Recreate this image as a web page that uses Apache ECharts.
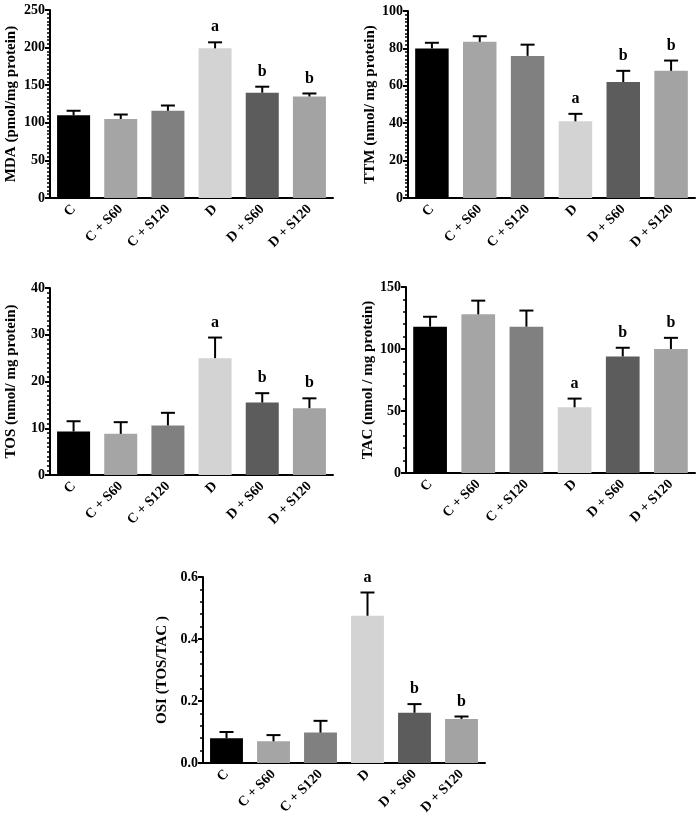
<!DOCTYPE html>
<html><head><meta charset="utf-8">
<script src="https://cdn.jsdelivr.net/npm/echarts@6/dist/echarts.min.js"></script>
<style>html,body{margin:0;padding:0;background:#fff}#c{width:697px;height:829px}</style>
</head><body><div id="c"></div>
<script>
const categories = ['C', 'C + S60', 'C + S120', 'D', 'D + S60', 'D + S120'];
const barColors = ['#000000', '#a5a5a5', '#808080', '#d3d3d3', '#5c5c5c', '#a3a3a3'];
const letters = ['', '', '', 'a', 'b', 'b'];

const mdaMean = [110, 105, 116, 199, 140, 135];
const mdaErr  = [116, 111, 123, 207, 148, 139];
const ttmMean = [80, 83.5, 76, 41, 62, 68];
const ttmErr  = [83, 86.5, 82, 45, 68, 73.5];
const tosMean = [9.3, 8.8, 10.6, 25, 15.5, 14.3];
const tosErr  = [11.5, 11.3, 13.3, 29.4, 17.5, 16.4];
const tacMean = [118, 128, 118, 53, 94, 100];
const tacErr  = [126, 139, 131, 60, 101, 109];
const osiMean = [0.08, 0.07, 0.098, 0.475, 0.162, 0.142];
const osiErr  = [0.10, 0.09, 0.136, 0.55, 0.19, 0.15];

const panels = [
  {name: 'MDA (pmol/mg protein)', mean: mdaMean, err: mdaErr, max: 250, interval: 50, minor: 10, grid: {left: 50, top: 10, width: 283, height: 188}, gap: 31, fmt: v => v},
  {name: 'TTM (nmol/ mg protein)', mean: ttmMean, err: ttmErr, max: 100, interval: 20, minor: 10, grid: {left: 408, top: 11, width: 287, height: 187}, gap: 28, fmt: v => v},
  {name: 'TOS (nmol/ mg protein)', mean: tosMean, err: tosErr, max: 40, interval: 10, minor: 10, grid: {left: 50, top: 288, width: 283, height: 187}, gap: 31, fmt: v => v},
  {name: 'TAC (nmol / mg protein)', mean: tacMean, err: tacErr, max: 150, interval: 50, minor: 5, grid: {left: 406, top: 287, width: 289, height: 186}, gap: 27, fmt: v => v},
  {name: 'OSI (TOS/TAC )', mean: osiMean, err: osiErr, max: 0.6, interval: 0.2, minor: 5, grid: {left: 203, top: 577, width: 282, height: 186}, gap: 33, fmt: v => v.toFixed(1)}
];

const font = "'Liberation Serif', 'Times New Roman', serif";
const option = {backgroundColor: '#fff', animation: false, grid: [], xAxis: [], yAxis: [], series: []};

panels.forEach((p, i) => {
  option.grid.push(Object.assign({containLabel: false}, p.grid));
  option.xAxis.push({
    type: 'category', gridIndex: i, data: categories,
    axisLine: {lineStyle: {color: '#000', width: 2}},
    axisTick: {alignWithLabel: true, length: 5, lineStyle: {color: '#000', width: 2}},
    axisLabel: {rotate: 45, interval: 0, fontFamily: font, fontWeight: 'bold', fontSize: 14, color: '#000', margin: 9}
  });
  option.yAxis.push({
    type: 'value', gridIndex: i, min: 0, max: p.max, interval: p.interval,
    name: p.name, nameLocation: 'middle', nameGap: p.gap,
    nameTextStyle: {fontFamily: font, fontWeight: 'bold', fontSize: 15, color: '#000'},
    axisLine: {show: true, lineStyle: {color: '#000', width: 2}},
    axisTick: {show: true, length: 5, lineStyle: {color: '#000', width: 2}},
    minorTick: {show: true, splitNumber: p.minor, length: 3, lineStyle: {color: '#000', width: 1.5}},
    splitLine: {show: false},
    axisLabel: {fontFamily: font, fontWeight: 'bold', fontSize: 14, color: '#000', margin: 5, formatter: p.fmt}
  });
  option.series.push({
    type: 'bar', xAxisIndex: i, yAxisIndex: i, barWidth: '70%',
    data: p.mean.map((v, k) => ({value: v, itemStyle: {color: barColors[k]}}))
  });
  option.series.push({
    type: 'custom', xAxisIndex: i, yAxisIndex: i, z: 5,
    data: p.mean.map((v, k) => [k, v, p.err[k], letters[k]]),
    renderItem: (params, api) => {
      const x = api.value(0);
      const base = api.coord([x, api.value(1)]);
      const top = api.coord([x, api.value(2)]);
      const cap = 7;
      const children = [
        {type: 'line', shape: {x1: base[0], y1: base[1], x2: top[0], y2: top[1]}, style: {stroke: '#000', lineWidth: 2}},
        {type: 'line', shape: {x1: top[0] - cap, y1: top[1], x2: top[0] + cap, y2: top[1]}, style: {stroke: '#000', lineWidth: 2}}
      ];
      const lt = letters[params.dataIndex];
      if (lt) {
        children.push({type: 'text', style: {text: lt, x: top[0], y: top[1] - 15, textAlign: 'center', textVerticalAlign: 'middle', font: "bold 16px 'Liberation Serif', serif", fill: '#000'}});
      }
      return {type: 'group', children: children};
    }
  });
});

const chart = echarts.init(document.getElementById('c'), null, {renderer: 'canvas'});
chart.setOption(option);
</script></body></html>
